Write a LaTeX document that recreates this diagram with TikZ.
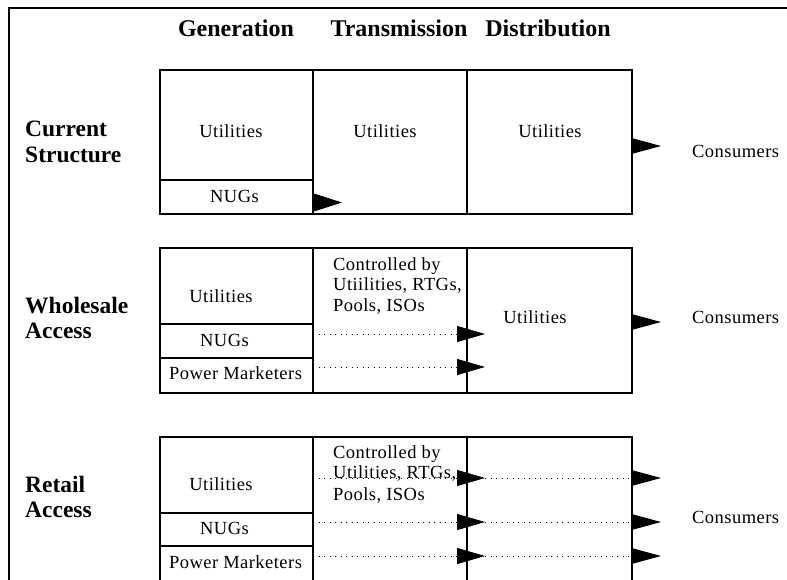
\documentclass[tikz,border=0pt]{standalone}
\usepackage{fontspec}
\setmainfont{Liberation Serif}
\newfontfamily\bodyfont[LetterSpace=2.5]{Liberation Serif}
\usetikzlibrary{arrows.meta}
\begin{document}
\begin{tikzpicture}[x=1pt,y=-1pt,
  cell/.style={draw, line width=1.6pt, inner sep=0pt, anchor=north west},
  lbl/.style={font=\bodyfont\fontsize{18.5}{21}\selectfont, inner sep=0pt, anchor=base},
  lblw/.style={lbl, anchor=base west},
  head/.style={font=\bfseries\fontsize{24}{28}\selectfont, inner sep=0pt, anchor=base},
  side/.style={font=\bfseries\fontsize{23.5}{28}\selectfont, inner sep=0pt, anchor=base west},
  flow/.style={-{Triangle[length=28pt,width=16pt]}, line width=1pt, dash pattern=on 1pt off 4.5pt},
  outflow/.style={-{Triangle[length=30pt,width=16pt]}, line width=1pt}
]
\useasboundingbox (0,0) rectangle (787,579);
\begin{scope}
\clip (0,0) rectangle (787,579);
% outer frame (top and left edges)
\draw[line width=2.5pt] (790,8) -- (9,8) -- (9,590);

% headings
\node[head] (hgen) at (236,36) {Generation};
\node[head] (htra) at (399,36) {Transmission};
\node[head] (hdis) at (548,36) {Distribution};

% side labels
\node[side] (cur1) at (25,136) {Current};
\node[side] (cur2) at (25,162) {Structure};
\node[side] (who1) at (25,313) {Wholesale};
\node[side] (who2) at (25,338) {Access};
\node[side] (ret1) at (25,492) {Retail};
\node[side] (ret2) at (25,517) {Access};

% ---- Current structure ----
\node[cell, minimum width=153pt, minimum height=110pt] (g1u) at (159,69) {};
\node[cell, minimum width=153pt, minimum height=34pt] (g1n) at (159,179) {};
\node[cell, minimum width=154pt, minimum height=144pt] (t1) at (312,69) {};
\node[cell, minimum width=165pt, minimum height=144pt] (d1) at (466,69) {};
\node[lbl] (g1ut) at (231,137) {Utilities};
\node[lbl] (g1nt) at (234.5,202) {NUGs};
\node[lbl] (t1t) at (385,137) {Utilities};
\node[lbl] (d1t) at (550,137) {Utilities};
\node[lblw] (c1) at (692,157) {Consumers};
\coordinate (a1s) at (312,202.5);
\coordinate (a1e) at (342,202.5);
\draw[-{Triangle[length=30pt,width=19pt]}, line width=1pt] (a1s) -- (a1e);
\coordinate (o1s) at (631,146);
\coordinate (o1e) at (661,146);
\draw[outflow] (o1s) -- (o1e);

% ---- Wholesale access ----
\node[cell, minimum width=153pt, minimum height=76pt] (g2u) at (159,247) {};
\node[cell, minimum width=153pt, minimum height=34pt] (g2n) at (159,323) {};
\node[cell, minimum width=153pt, minimum height=35pt] (g2p) at (159,357) {};
\node[cell, minimum width=154pt, minimum height=145pt] (t2) at (312,247) {};
\node[cell, minimum width=165pt, minimum height=145pt] (d2) at (466,247) {};
\node[lbl] (g2ut) at (221,302) {Utilities};
\node[lbl] (g2nt) at (224.5,346) {NUGs};
\node[lbl] (g2pt) at (235.5,379) {Power Marketers};
\node[lblw] (t2a) at (333,270) {Controlled by};
\node[lblw] (t2b) at (333,290) {Utiilities, RTGs,};
\node[lblw] (t2c) at (333,311) {Pools, ISOs};
\node[lbl] (d2t) at (535,323) {Utilities};
\node[lblw] (c2) at (692,323) {Consumers};
\coordinate (w1s) at (313,334);
\coordinate (w1e) at (485,334);
\coordinate (w2s) at (313,367);
\coordinate (w2e) at (485,367);
\draw[flow] (w1s) -- (w1e);
\draw[flow] (w2s) -- (w2e);
\coordinate (o2s) at (631,322);
\coordinate (o2e) at (661,322);
\draw[outflow] (o2s) -- (o2e);

% ---- Retail access ----
\node[cell, minimum width=153pt, minimum height=76pt] (g3u) at (159,436) {};
\node[cell, minimum width=153pt, minimum height=33pt] (g3n) at (159,512) {};
\node[cell, minimum width=153pt, minimum height=60pt] (g3p) at (159,545) {};
\node[cell, minimum width=154pt, minimum height=164pt] (t3) at (312,436) {};
\node[cell, minimum width=165pt, minimum height=164pt] (d3) at (466,436) {};
\node[lbl] (g3ut) at (221,490) {Utilities};
\node[lbl] (g3nt) at (224.5,534) {NUGs};
\node[lbl] (g3pt) at (235.5,568) {Power Marketers};
\node[lblw] (t3a) at (333,458) {Controlled by};
\node[lblw] (t3b) at (333,478) {Utilities, RTGs,};
\node[lblw] (t3c) at (333,500) {Pools, ISOs};
\node[lblw] (c3) at (692,523) {Consumers};
\foreach \r/\yy in {1/478,2/522,3/556}{
  \coordinate (r\r s) at (313,\yy);
  \coordinate (r\r m) at (485,\yy);
  \coordinate (r\r e) at (661,\yy);
  \draw[flow] (r\r s) -- (r\r m);
  \draw[flow, -{Triangle[length=30pt,width=16pt]}] (r\r m) -- (r\r e);
}
\end{scope}
\end{tikzpicture}
\end{document}
